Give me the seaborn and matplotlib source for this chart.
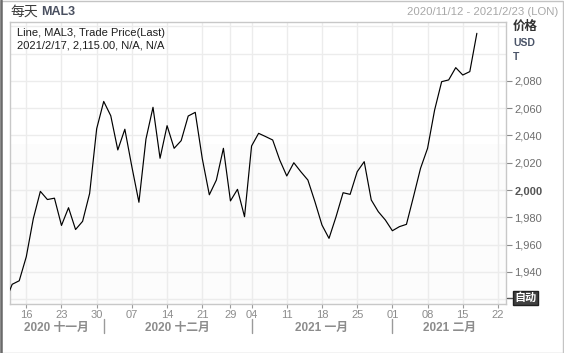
import matplotlib
matplotlib.use("Agg")
import matplotlib.pyplot as plt
import matplotlib.transforms as mtransforms
from matplotlib.patches import Rectangle
import seaborn as sns
import pandas as pd

# ---------------- data ----------------
holidays = ["2020-12-25", "2020-12-28", "2021-01-01"]
first_date = "2020-11-11"
last_date = "2021-02-17"
prices = [
    1918.0, 1930.8, 1933.4, 1951.0, 1979.0, 1999.0, 1993.0, 1994.0, 1974.0, 1987.0,
    1971.0, 1977.0, 1997.5, 2045.0, 2065.0, 2054.5, 2029.4, 2044.6, 2017.0, 1991.0,
    2037.4, 2060.7, 2023.3, 2047.2, 2030.6, 2036.2, 2054.3, 2057.0, 2023.0, 1996.5,
    2007.3, 2030.6, 1992.0, 2000.5, 1980.4, 2032.3, 2041.6, 2039.2, 2036.7, 2022.0,
    2010.3, 2020.0, 2013.4, 2007.3, 1991.4, 1974.3, 1964.5, 1980.4, 1998.0, 1996.8,
    2013.4, 2020.8, 1992.7, 1984.1, 1978.0, 1970.1, 1973.1, 1974.8, 1995.1, 2015.9,
    2030.6, 2058.7, 2079.5, 2080.8, 2089.8, 2084.4, 2086.9, 2115.0,
]
tick_dates = ["2020-11-16", "2020-11-23", "2020-11-30", "2020-12-07", "2020-12-14",
              "2020-12-21", "2020-12-29", "2021-01-04", "2021-01-11", "2021-01-18",
              "2021-01-25", "2021-02-01", "2021-02-08", "2021-02-15", "2021-02-22"]
tick_labels = ["16", "23", "30", "07", "14", "21", "29", "04", "11", "18", "25",
               "01", "08", "15", "22"]
month_labels = ["2020 十一月", "2020 十二月", "2021 一月", "2021 二月"]
month_starts = ["2020-12-01", "2021-01-04", "2021-02-01"]
y_major = [1940, 1960, 1980, 2000, 2020, 2040, 2060, 2080]
y_minor = [1920, 2100, 2120]

# trading-day calendar (x axis is trading-day based)
cal = pd.bdate_range("2020-11-11", "2021-02-26", freq="C", holidays=holidays)
pos = {d.strftime("%Y-%m-%d"): i for i, d in enumerate(cal)}
data_dates = [d for d in cal if d <= pd.Timestamp(last_date)]
df = pd.DataFrame({"x": range(len(data_dates)), "price": prices})

# ---------------- figure ----------------
W, H = 564, 353
sns.set_theme(style="white")
plt.rcParams["font.family"] = ["Liberation Sans", "Noto Sans CJK SC"]

fig = plt.figure(figsize=(W / 100, H / 100), dpi=100, facecolor="white")
L, R, T, B = 9.7, 506, 22, 303.5
ax = fig.add_axes([L / W, 1 - B / H, (R - L) / W, (B - T) / H])
ax.set_facecolor("white")

x_left, x_right = 0.645, 71.14
y_bottom, y_top = 1916.7, 2123.3

ax.axhspan(y_bottom, 2034, color="#fcfcfc", zorder=0, lw=0)
sns.lineplot(data=df, x="x", y="price", color="black", lw=0.85, ax=ax, zorder=3)

ax.set_xlim(x_left, x_right)
ax.set_ylim(y_bottom, y_top)
ax.set_xlabel("")
ax.set_ylabel("")

# x ticks
xt = [pos[d] for d in tick_dates]
ax.set_xticks(xt)
ax.set_xticklabels(tick_labels, fontsize=8, color="#8c8c8c")
ax.tick_params(axis="x", direction="out", length=3, width=0.8, color="#9a9a9a",
               pad=2, bottom=True)

# y ticks on right
ax.yaxis.tick_right()
ax.set_yticks(y_major)
ax.set_yticks(y_minor, minor=True)
ax.set_yticklabels([f"{v:,}" for v in y_major], fontsize=8, color="#6e6e6e")
for lab in ax.get_yticklabels():
    if lab.get_text() == "2,000":
        lab.set_fontweight("bold")
        lab.set_color("#555555")
ax.tick_params(axis="y", which="major", direction="out", length=4, width=0.8,
               color="#8a8a8a", pad=2, right=True, left=False)
ax.tick_params(axis="y", which="minor", length=0)

ax.grid(True, which="both", color="#ececec", lw=1.0)
ax.set_axisbelow(True)
for s in ax.spines.values():
    s.set_color("#c8c8c8")
    s.set_linewidth(1.0)

# month separators and labels
trans = mtransforms.blended_transform_factory(ax.transData, ax.transAxes)
ax_h = B - T
y_sep0 = -(319 - B) / ax_h
y_sep1 = -(333 - B) / ax_h
seps = [pos[d] for d in month_starts]
for sx in seps:
    ax.plot([sx, sx], [y_sep0, y_sep1], transform=trans, color="#9a9a9a",
            lw=1.0, clip_on=False)
bounds = [x_left] + seps + [x_right]
y_month = -(327.5 - B) / ax_h
for i, lab in enumerate(month_labels):
    cx = (bounds[i] + bounds[i + 1]) / 2
    ax.text(cx, y_month, lab, transform=trans, ha="center", va="center",
            fontsize=8.5, fontweight="bold", color="#8c8c8c")


def ftext(x, y, s, **kw):
    fig.text(x / W, 1 - y / H, s, **kw)


# header
ftext(10, 12, "每天", fontsize=10, color="#3c3c3c", va="center", ha="left")
ftext(41, 12, "MAL3", fontsize=9, fontweight="bold", color="#4a5060",
      va="center", ha="left")
ftext(558, 12, "2020/11/12 - 2021/2/23 (LON)", fontsize=8.2, color="#a8a8a8",
      va="center", ha="right")

# legend text in plot
ftext(17, 33, "Line, MAL3, Trade Price(Last)", fontsize=8, color="#1e1e1e",
      va="center", ha="left")
ftext(17, 46, "2021/2/17, 2,115.00, N/A, N/A", fontsize=8, color="#1e1e1e",
      va="center", ha="left")

# right header
ftext(513, 27, "价格", fontsize=9, fontweight="bold", color="#333333",
      va="center", ha="left")
ftext(513, 43, "USD", fontsize=7.5, fontweight="bold", color="#4a5468",
      va="center", ha="left")
ftext(513, 57, "T", fontsize=7.5, fontweight="bold", color="#4a5468",
      va="center", ha="left")

# "自动" button
fig.add_artist(plt.Line2D([507 / W, 512 / W], [1 - 298 / H, 1 - 298 / H],
                          color="#555555", lw=1.0))
ftext(525.5, 298, "自动", fontsize=8, fontweight="bold", color="white",
      va="center", ha="center",
      bbox=dict(boxstyle="square,pad=0.12", fc="#404040", ec="#202020", lw=1.0))

# outer frame
fig.add_artist(Rectangle((0.5 / W, 0.5 / H), (W - 1.5) / W, (H - 1.5) / H,
                         transform=fig.transFigure, fill=False, ec="#c4c4c4", lw=1.0))
fig.add_artist(plt.Line2D([1.2 / W, 1.2 / W], [0, 1], color="#6a6a6a", lw=1.8))

fig.savefig("out.png", dpi=100, facecolor="white")
